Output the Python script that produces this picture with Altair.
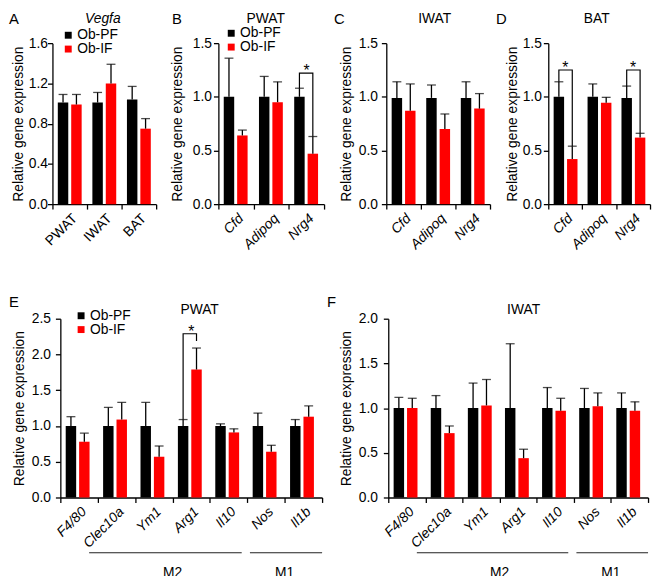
import altair as alt
import pandas as pd

FONT = "Liberation Sans"
GROUPS = ["Ob-PF", "Ob-IF"]
COLORS = ["#000000", "#ff0000"]
YTITLE = "Relative gene expression"

# ---------------- data ----------------
a_cats = ["PWAT", "IWAT", "BAT"]
a_pf = [1.01, 1.01, 1.04]
a_pf_err = [0.08, 0.10, 0.13]
a_if = [0.99, 1.20, 0.75]
a_if_err = [0.10, 0.19, 0.10]

gene_cats = ["Cfd", "Adipoq", "Nrg4"]
b_pf = [1.00, 1.00, 1.00]
b_pf_err = [0.36, 0.19, 0.08]
b_if = [0.64, 0.95, 0.47]
b_if_err = [0.05, 0.19, 0.16]

c_pf = [0.99, 0.99, 0.99]
c_pf_err = [0.15, 0.12, 0.15]
c_if = [0.87, 0.70, 0.89]
c_if_err = [0.25, 0.14, 0.14]

d_pf = [1.00, 1.00, 0.99]
d_pf_err = [0.14, 0.12, 0.11]
d_if = [0.42, 0.945, 0.62]
d_if_err = [0.12, 0.05, 0.04]

mac_cats = ["F4/80", "Clec10a", "Ym1", "Arg1", "Il10", "Nos", "Il1b"]
e_pf = [1.00, 1.00, 1.00, 1.00, 1.00, 1.00, 1.00]
e_pf_err = [0.13, 0.26, 0.33, 0.09, 0.03, 0.18, 0.09]
e_if = [0.78, 1.09, 0.57, 1.79, 0.91, 0.64, 1.13]
e_if_err = [0.12, 0.24, 0.15, 0.30, 0.05, 0.09, 0.15]

f_pf = [1.00, 1.00, 1.00, 1.00, 1.00, 1.00, 1.00]
f_pf_err = [0.12, 0.14, 0.28, 0.72, 0.23, 0.22, 0.17]
f_if = [1.00, 0.72, 1.03, 0.44, 0.97, 1.02, 0.97]
f_if_err = [0.11, 0.08, 0.29, 0.10, 0.14, 0.15, 0.10]

# significance brackets: (category, top, left leg bottom, right leg bottom)
b_brackets = [("Nrg4", 1.22, 1.08, 0.63)]
d_brackets = [("Cfd", 1.25, 1.14, 0.54), ("Nrg4", 1.25, 1.10, 0.66)]
e_brackets = [("Arg1", 2.29, 1.09, 2.19)]

# macrophage marker groups: (label, first category, last category)
mac_groups = [("M2", "Clec10a", "Il10"), ("M1", "Nos", "Il1b")]
GROUP_INSET = {"M2": (-0.23, -0.15), "M1": (0.07, 0.0)}


def make_df(cats, pf, pf_err, iff, iff_err):
    rows = []
    for g, means, errs in ((GROUPS[0], pf, pf_err), (GROUPS[1], iff, iff_err)):
        for c, m, e in zip(cats, means, errs):
            rows.append({"cat": c, "grp": g, "mean": m, "upper": round(m + e, 3)})
    return pd.DataFrame(rows)


def panel(cats, pf, pf_err, iff, iff_err, view_w, plot_w, height, ymax, ystep,
          title, title_x, title_y, title_italic, gene_italic,
          letter, letter_x, letter_y, label_pad, title_pad,
          legend_xy=None, brackets=(), groups=None, shift=0):
    """shift: left inset (px) of the plot inside its view; plot spans shift..shift+plot_w"""
    df = make_df(cats, pf, pf_err, iff, iff_err)
    n_ticks = int(round(ymax / ystep))
    ticks = [round(k * ystep, 2) for k in range(n_ticks + 1)]

    x_axis = alt.Axis(title=None, labelAngle=-45, labelFont=FONT, labelFontSize=14,
                      labelFontStyle="italic" if gene_italic else "normal",
                      labelColor="black", labelPadding=2, tickBand="extent",
                      tickSize=5, tickWidth=1.3, tickColor="black",
                      domainColor="black", domainWidth=1.3)
    x = alt.X("cat:N", sort=cats,
              scale=alt.Scale(paddingInner=0, paddingOuter=0,
                              rangeMin=shift, rangeMax=shift + plot_w),
              axis=x_axis)
    xo = alt.XOffset("grp:N", sort=GROUPS,
                     scale=alt.Scale(paddingInner=0.22, paddingOuter=0.4))
    y_axis = alt.Axis(values=ticks, format=".1f", title=YTITLE, grid=False,
                      labelFont=FONT, labelFontSize=14, labelColor="black",
                      labelPadding=label_pad, tickSize=5, tickWidth=1.3,
                      tickColor="black", domainColor="black", domainWidth=1.3,
                      titleFont=FONT, titleFontSize=14, titleFontWeight="normal",
                      titleColor="black", titlePadding=title_pad, offset=-shift)
    y_scale = alt.Scale(domain=[0, ymax], nice=False)

    def Y(field):
        return alt.Y(field, type="quantitative", scale=y_scale, axis=y_axis)

    if legend_xy is not None:
        legend = alt.Legend(orient="none", legendX=shift + legend_xy[0],
                            legendY=legend_xy[1],
                            title=None, symbolType="square", symbolSize=49,
                            symbolStrokeWidth=0, labelFont=FONT, labelFontSize=14,
                            labelColor="black", labelOffset=2, rowPadding=-2,
                            padding=0)
    else:
        legend = None
    color = alt.Color("grp:N", sort=GROUPS,
                      scale=alt.Scale(domain=GROUPS, range=COLORS), legend=legend)

    bars = alt.Chart(df).mark_bar().encode(x=x, xOffset=xo, y=Y("mean"), color=color)
    err = alt.Chart(df).mark_rule(color="black", strokeWidth=1.3).encode(
        x=x, xOffset=xo, y=Y("mean"), y2="upper:Q")
    caps = alt.Chart(df).mark_tick(color="black", thickness=1.3, size=9).encode(
        x=x, xOffset=xo, y=Y("upper"))
    layers = [bars, err, caps]

    if brackets:
        brows, srows = [], []
        for i, (c, top, lb, rb) in enumerate(brackets):
            brows += [
                {"cat": c, "grp": GROUPS[0], "v": lb, "o": 0, "b": i},
                {"cat": c, "grp": GROUPS[0], "v": top, "o": 1, "b": i},
                {"cat": c, "grp": GROUPS[1], "v": top, "o": 2, "b": i},
                {"cat": c, "grp": GROUPS[1], "v": rb, "o": 3, "b": i},
            ]
            srows.append({"cat": c, "v": top, "s": "*"})
        bline = alt.Chart(pd.DataFrame(brows)).mark_line(
            color="black", strokeWidth=1.2).encode(
            x=x, xOffset=xo, y=Y("v"), order="o:Q", detail="b:N")
        stars = alt.Chart(pd.DataFrame(srows)).mark_text(
            font=FONT, fontSize=16, baseline="alphabetic", dy=3, color="black").encode(
            x=x, y=Y("v"), text="s:N")
        layers += [bline, stars]

    ltxt = alt.Chart(pd.DataFrame({"t": [letter]})).mark_text(
        font=FONT, fontSize=15, align="left", baseline="top", color="black").encode(
        x=alt.value(shift + letter_x), y=alt.value(letter_y), text="t:N")
    ttxt = alt.Chart(pd.DataFrame({"t": [title]})).mark_text(
        font=FONT, fontSize=14, fontStyle="italic" if title_italic else "normal",
        align="center", baseline="alphabetic", color="black").encode(
        x=alt.value(shift + title_x), y=alt.value(title_y), text="t:N")
    layers += [ltxt, ttxt]

    main = alt.layer(*layers)
    if groups:
        grows = []
        for lab, start, end in groups:
            i0 = cats.index(start)
            i1 = cats.index(end) + 1
            l, r = GROUP_INSET[lab]
            grows.append({"lab": lab, "x0": i0 + l, "x1": i1 + r, "xc": (i0 + i1) / 2})
        gdf = pd.DataFrame(grows)
        gx = alt.Scale(domain=[0, len(cats)], nice=False, zero=False,
                       rangeMin=shift, rangeMax=shift + plot_w)
        glines = alt.Chart(gdf).mark_rule(color="#222222", strokeWidth=1.1).encode(
            x=alt.X("x0:Q", scale=gx, axis=None), x2="x1:Q", y=alt.value(height + 56))
        glabels = alt.Chart(gdf).mark_text(
            font=FONT, fontSize=14, baseline="top", color="black").encode(
            x=alt.X("xc:Q", scale=gx, axis=None), y=alt.value(height + 69), text="lab:N")
        main = alt.layer(main, alt.layer(glines, glabels)).resolve_scale(x="independent")
    return main.properties(width=view_w, height=height)


TOP_H = 163
BOT_H = 181

A = panel(a_cats, a_pf, a_pf_err, a_if, a_if_err, 109, 105, TOP_H, 1.6, 0.4,
          "Vegfa", 51, -20, True, False, "A", -44, -31, 0, 3, legend_xy=(9, -15))
B = panel(gene_cats, b_pf, b_pf_err, b_if, b_if_err, 111, 107, TOP_H, 1.5, 0.5,
          "PWAT", 48, -20, False, True, "B", -47, -31, 2, 8, legend_xy=(6, -17),
          brackets=b_brackets)
C = panel(gene_cats, c_pf, c_pf_err, c_if, c_if_err, 105, 105, TOP_H, 1.5, 0.5,
          "IWAT", 49, -20, False, True, "C", -53, -31, 4, 5)
D = panel(gene_cats, d_pf, d_pf_err, d_if, d_if_err, 103, 103, TOP_H, 1.5, 0.5,
          "BAT", 49, -20, False, True, "D", -53, -31, 2, 3, brackets=d_brackets)
E = panel(mac_cats, e_pf, e_pf_err, e_if, e_if_err, 273, 265, BOT_H, 2.5, 0.5,
          "PWAT", 141, -5, False, True, "E", -52, -24, 5, 5, legend_xy=(14, -10),
          brackets=e_brackets, groups=mac_groups, shift=8)
F = panel(mac_cats, f_pf, f_pf_err, f_if, f_if_err, 263, 263, BOT_H, 2.0, 0.5,
          "IWAT", 137, -5, False, True, "F", -62, -24, 6, 5, groups=mac_groups)


def hcat(*charts, spacing):
    return alt.hconcat(*charts, spacing=spacing, bounds="flush").resolve_scale(
        color="independent").resolve_legend(color="independent")


top = hcat(A, B, C, D, spacing=59)
bottom = hcat(E, F, spacing=67)

chart = alt.vconcat(top, bottom, spacing=42).resolve_scale(
    color="independent").resolve_legend(color="independent").properties(
    padding=0).configure_view(stroke="transparent")

chart.save("out.html", embed_options={"renderer": "svg", "actions": False})
